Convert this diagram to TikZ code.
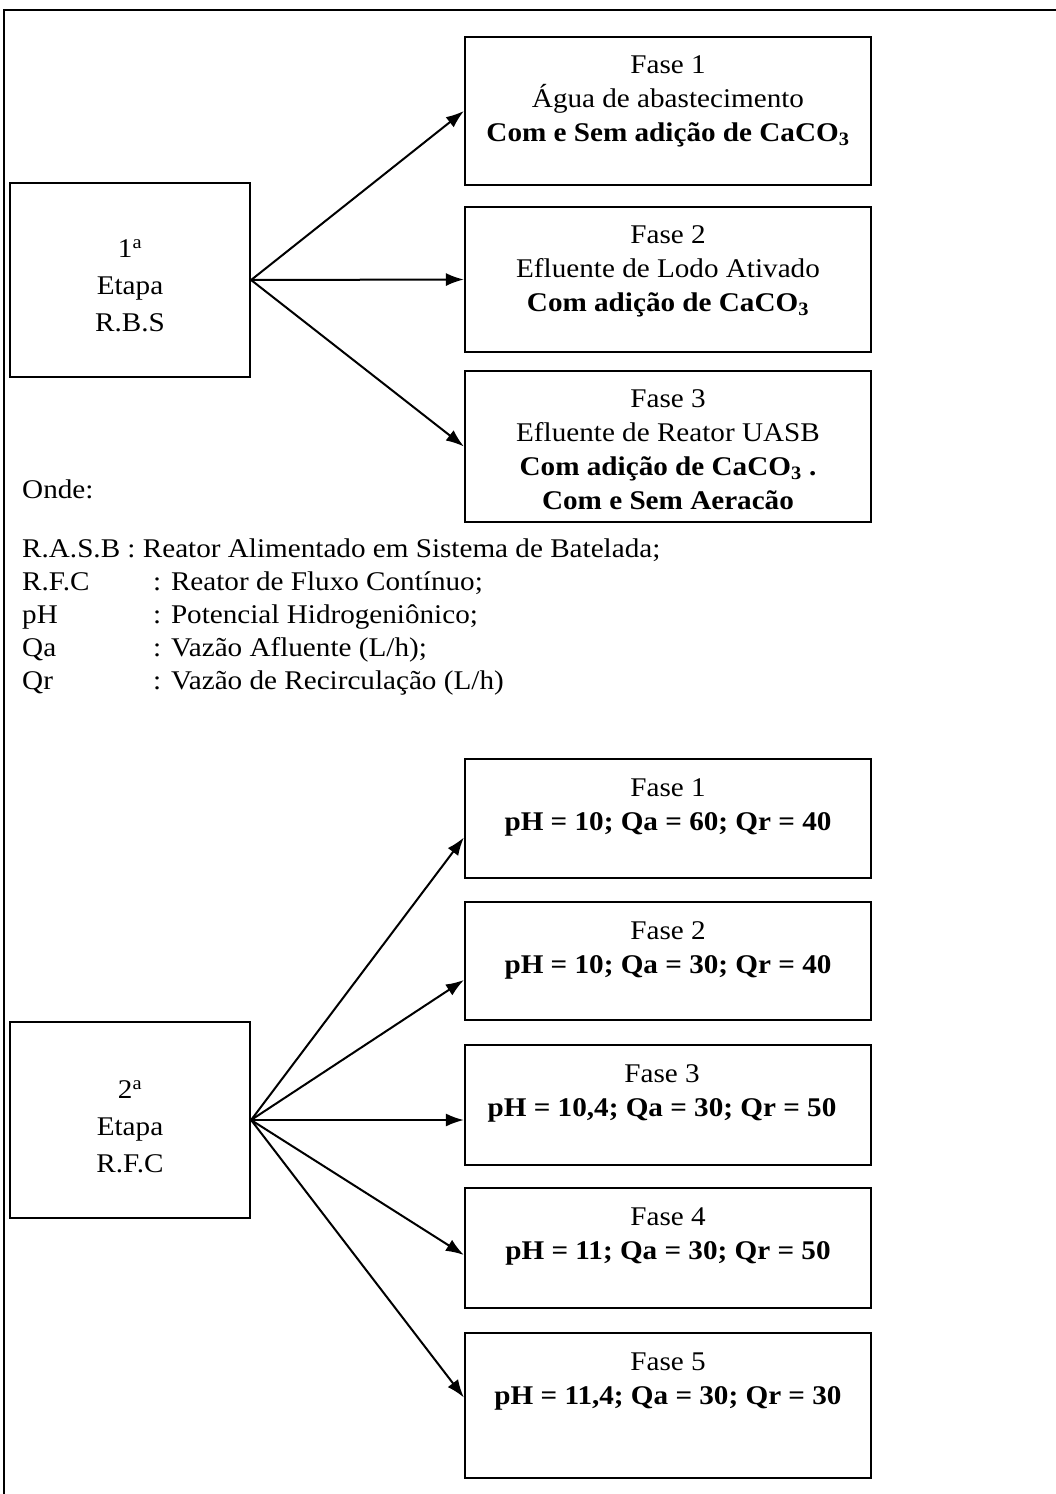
\documentclass[tikz,border=0pt]{standalone}
\usepackage{fontspec}
\setmainfont{Liberation Serif}[FakeStretch=1.08]
\usetikzlibrary{arrows.meta,calc}
\begin{document}
\begin{tikzpicture}[x=1pt,y=-1pt,
  box/.style={draw,line width=2.2pt,inner sep=0pt,minimum width=406pt},
  etapabox/.style={draw,line width=2.2pt,inner sep=0pt,minimum width=240pt},
  etapatxt/.style={align=center,inner sep=0pt,font=\fontsize{27}{37}\selectfont},
  txt/.style={align=center,inner sep=0pt,anchor=north,font=\fontsize{27}{34}\selectfont},
  leg/.style={anchor=base west,inner sep=0pt,font=\fontsize{27}{33}\selectfont},
  arr/.style={line width=2pt,-{Latex[length=18pt,width=13pt]}}]
\useasboundingbox (0,0) rectangle (1056,1494);
% outer frame
\draw[line width=2.2pt] (4,1494) -- (4,10) -- (1056,10);

% ---- 1a Etapa ----
\node[etapabox,minimum height=194pt] (e1) at (130,280) {};
\node[etapatxt] (e1t) at ($(e1.center)+(0,6)$) {1\textsuperscript{a}\\Etapa\\R.B.S};
\node[box,minimum height=148pt] (a1) at (668,111) {};
\node[box,minimum height=145pt] (a2) at (668,279.5) {};
\node[box,minimum height=151pt] (a3) at (668,446.5) {};
\node[txt] (a1t) at ($(a1.north)+(0,20)$) {Fase 1\\Água de abastecimento\\\textbf{Com e Sem adição de CaCO\textsubscript{3}}};
\node[txt] (a2t) at ($(a2.north)+(0,20)$) {Fase 2\\Efluente de Lodo Ativado\\\textbf{Com adição de CaCO\textsubscript{3}}};
\node[txt] (a3t) at ($(a3.north)+(0,20)$) {Fase 3\\Efluente de Reator UASB\\\textbf{Com adição de CaCO\textsubscript{3} .}\\\textbf{Com e Sem Aeracão}};
\draw[arr] (e1.east) -- (a1.west);
\draw[arr] (e1.east) -- (a2.west);
\draw[arr] (e1.east) -- (a3.west);

% ---- legend ----
\node[leg] (onde) at (22,498) {Onde:};
\node[leg] (l1) at (22,557) {R.A.S.B : Reator Alimentado em Sistema de Batelada;};
\node[leg] (l2a) at (22,590) {R.F.C};
\node[leg] (l2b) at (153,590) {: Reator de Fluxo Contínuo;};
\node[leg] (l3a) at (22,623) {pH};
\node[leg] (l3b) at (153,623) {: Potencial Hidrogeniônico;};
\node[leg] (l4a) at (22,656) {Qa};
\node[leg] (l4b) at (153,656) {: Vazão Afluente (L/h);};
\node[leg] (l5a) at (22,689) {Qr};
\node[leg] (l5b) at (153,689) {: Vazão de Recirculação (L/h)};

% ---- 2a Etapa ----
\node[etapabox,minimum height=196pt] (e2) at (130,1120) {};
\node[etapatxt] (e2t) at ($(e2.center)+(0,7)$) {2\textsuperscript{a}\\Etapa\\R.F.C};
\node[box,minimum height=119pt] (b1) at (668,818.5) {};
\node[box,minimum height=118pt] (b2) at (668,961) {};
\node[box,minimum height=120pt] (b3) at (668,1105) {};
\node[box,minimum height=120pt] (b4) at (668,1248) {};
\node[box,minimum height=145pt] (b5) at (668,1405.5) {};
\node[txt] (b1t) at ($(b1.north)+(0,21)$) {Fase 1\\\textbf{pH = 10; Qa = 60; Qr = 40}};
\node[txt] (b2t) at ($(b2.north)+(0,21)$) {Fase 2\\\textbf{pH = 10; Qa = 30; Qr = 40}};
\node[txt] (b3t) at ($(b3.north)+(-6,21)$) {Fase 3\\\textbf{pH = 10,4; Qa = 30; Qr = 50}};
\node[txt] (b4t) at ($(b4.north)+(0,21)$) {Fase 4\\\textbf{pH = 11; Qa = 30; Qr = 50}};
\node[txt] (b5t) at ($(b5.north)+(0,21)$) {Fase 5\\\textbf{pH = 11,4; Qa = 30; Qr = 30}};
\draw[arr] (e2.east) -- ($(b1.west)+(0,19)$);
\draw[arr] (e2.east) -- ($(b2.west)+(0,19)$);
\draw[arr] (e2.east) -- ($(b3.west)+(0,15)$);
\draw[arr] (e2.east) -- ($(b4.west)+(0,7)$);
\draw[arr] (e2.east) -- ($(b5.west)+(0,-8)$);
\end{tikzpicture}
\end{document}
